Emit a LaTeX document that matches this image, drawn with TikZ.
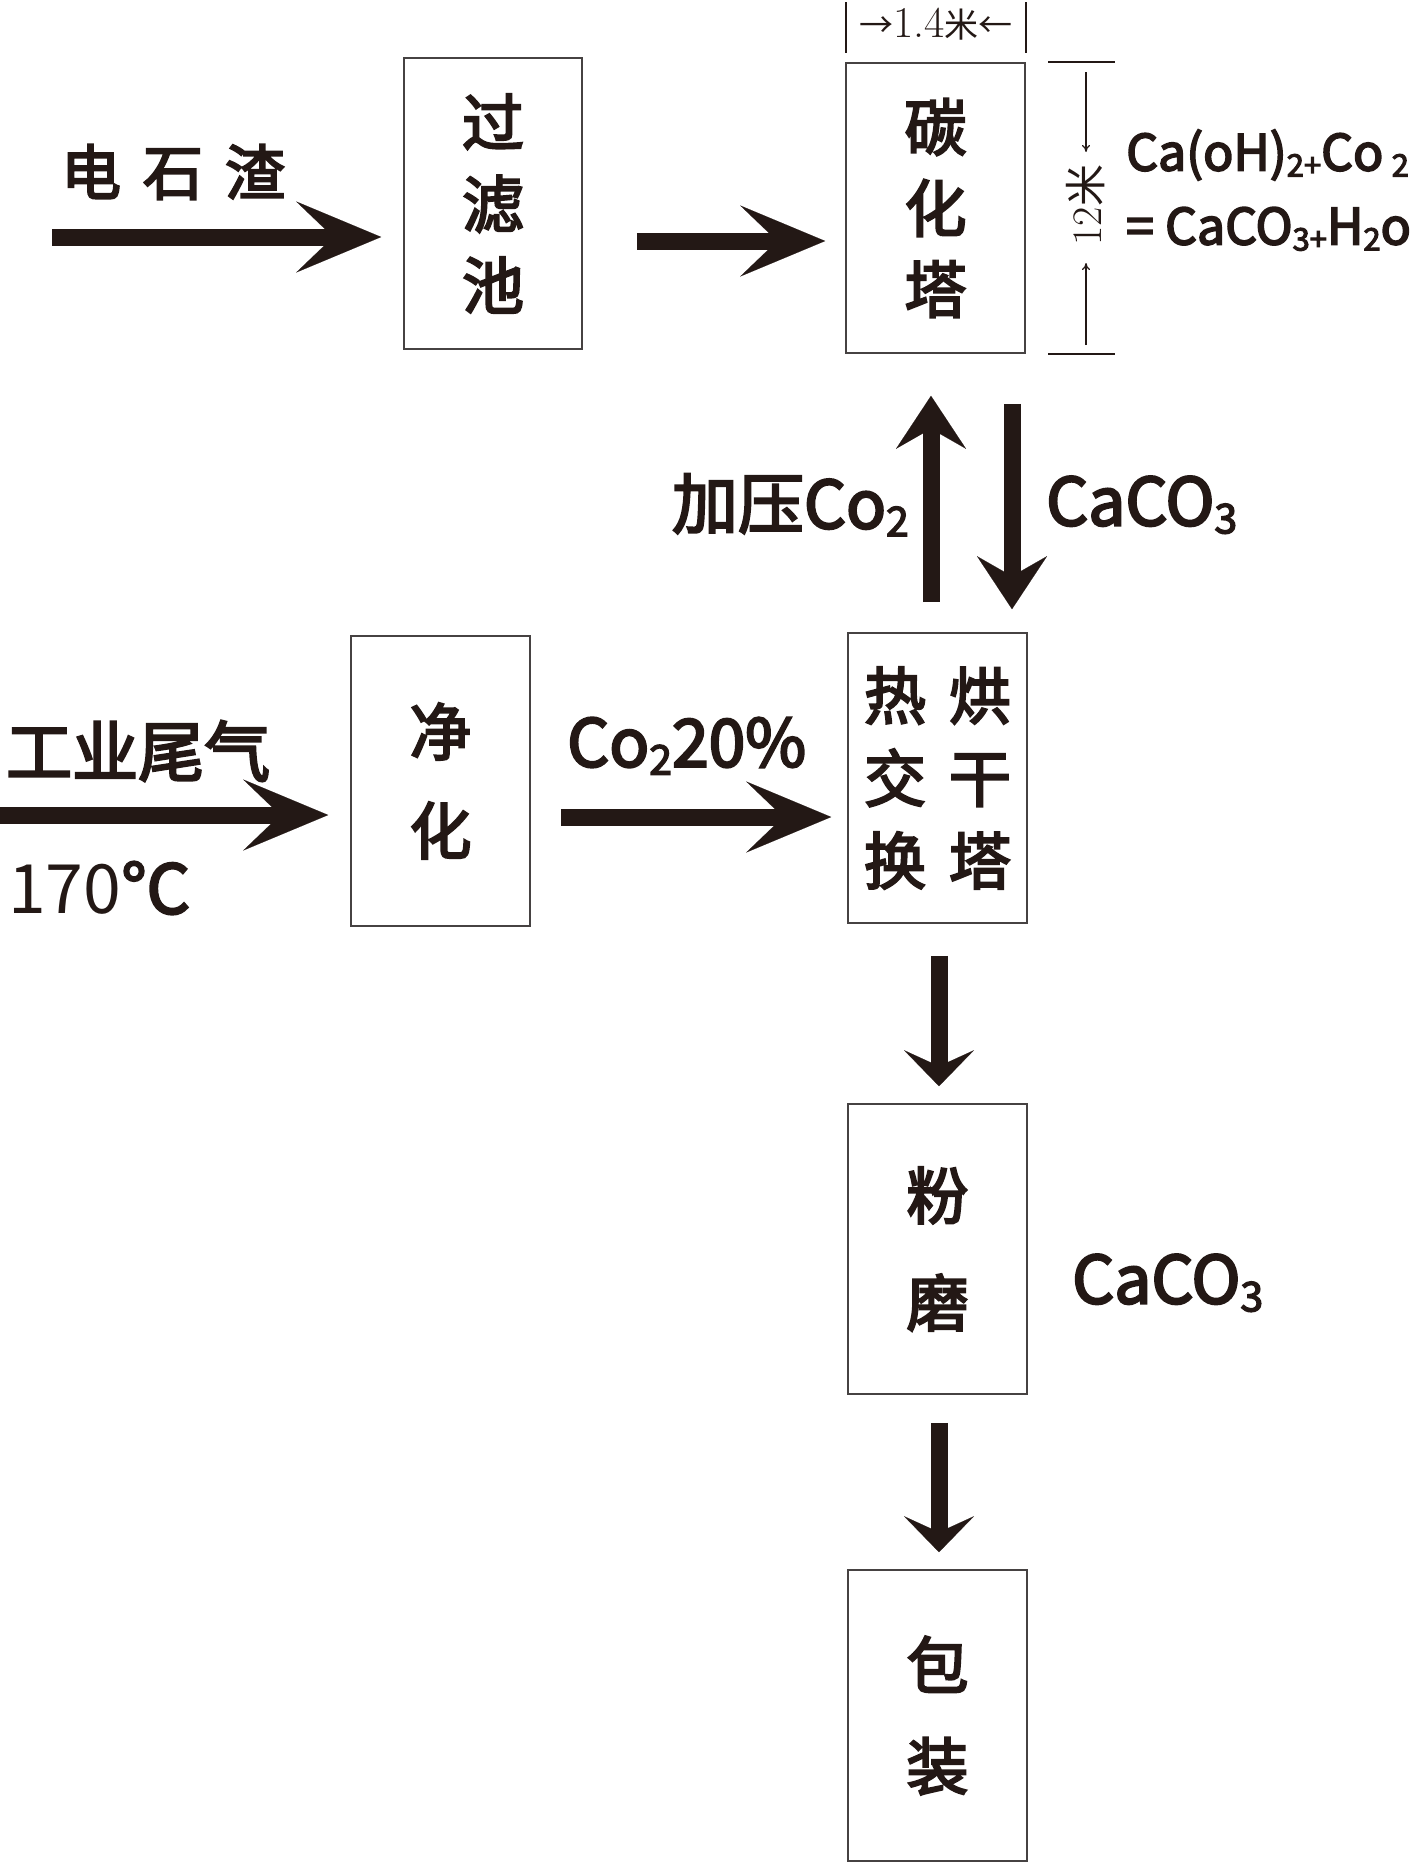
\documentclass[tikz,border=0pt]{standalone}
\usepackage{fontspec}
\setmainfont{Noto Sans CJK SC}
\newfontfamily\med{Noto Sans CJK SC}[FakeBold=3.5]
\newfontfamily\lmr{Latin Modern Roman}
\newcommand\sbs[1]{\raisebox{-0.12em}{\scalebox{0.62}{#1}}}
\usetikzlibrary{arrows.meta}
\definecolor{ink}{RGB}{35,24,21}
\definecolor{frame}{RGB}{70,66,66}
\begin{document}
\begin{tikzpicture}[x=1pt,y=-1pt,
  box/.style={draw=frame, line width=1.6pt, minimum width=179pt, minimum height=290pt,
    inner sep=0pt, text=ink, align=center},
  lbl/.style={inner sep=0pt, text=ink},
  fatH/.style={draw=ink, line width=17pt, -{Stealth[length=85pt, width=71pt, inset=37pt, line width=0.1pt]}},
  fatV/.style={draw=ink, line width=17pt, -{Stealth[length=53pt, width=70pt, inset=20pt, line width=0.1pt]}},
  fatS/.style={draw=ink, line width=17pt, -{Stealth[length=36pt, width=70pt, inset=16pt, line width=0.1pt]}},
  dim/.style={draw=ink, line width=1.2pt},
  dimarr/.style={draw=ink, line width=1.2pt, -{To[length=7pt,width=8pt]}}
]
\useasboundingbox (0,0) rectangle (1421,1863);

% boxes
\node[box, font=\med\fontsize{62}{81.5}\selectfont, minimum width=178pt, minimum height=291pt] (b1) at (493,203.5) {过\\滤\\池};
\node[box, font=\med\fontsize{62}{81}\selectfont] (b2) at (935.5,208) {碳\\化\\塔};
\node[box, font=\med\fontsize{62}{82.5}\selectfont] (b3) at (937.5,778) {热\hspace{23pt}烘\\交\hspace{23pt}干\\换\hspace{23pt}塔};
\node[box, font=\med\fontsize{62}{99}\selectfont] (b4) at (440.5,781) {净\\化};
\node[box, font=\med\fontsize{62}{107}\selectfont] (b5) at (937.5,1249) {粉\\磨};
\node[box, font=\med\fontsize{62}{101}\selectfont, minimum height=291pt] (b6) at (937.5,1715.5) {包\\装};

% labels
\node[lbl, font=\med\fontsize{60}{60}\selectfont] (t1) at (173,172) {电\hspace{22pt}石\hspace{22pt}渣};
\node[lbl, font=\med\fontsize{66}{66}\selectfont, anchor=west] (t2) at (6,751) {工业尾气};
\node[lbl, font=\fontsize{68}{68}\selectfont, anchor=west] (t3) at (8,888) {170{\med °C}};
\node[lbl, font=\med\fontsize{66}{66}\selectfont, anchor=west] (t4) at (567,746) {Co\sbs{2}20\%};
\node[lbl, font=\med\fontsize{66}{66}\selectfont, anchor=east] (t5) at (909,505) {加压Co\sbs{2}};
\node[lbl, font=\med\fontsize{66}{66}\selectfont, anchor=west] (t6) at (1046,505) {CaCO\sbs{3}};
\node[lbl, font=\med\fontsize{66}{66}\selectfont, anchor=west] (t7) at (1072,1283) {CaCO\sbs{3}};
\node[lbl, font=\med\fontsize{50}{50}\selectfont, anchor=west] (t8) at (1126,155) {Ca(oH)\sbs{2+}Co\,\sbs{2}};
\node[lbl, font=\med\fontsize{50}{50}\selectfont, anchor=west] (t9) at (1126,229) {= CaCO\sbs{3+}H\sbs{2}o};

% dimensions
\node[lbl, font=\fontsize{34}{34}\selectfont] (d1) at (936,24) {→{\lmr\fontsize{44}{44}\selectfont 1.4}米←};
\coordinate (k1a) at (846,2); \coordinate (k1b) at (846,53);
\coordinate (k2a) at (1026,2); \coordinate (k2b) at (1026,53);
\draw[dim] (k1a) -- (k1b);
\draw[dim] (k2a) -- (k2b);
\coordinate (h1a) at (1048,62); \coordinate (h1b) at (1115,62);
\coordinate (h2a) at (1048,354); \coordinate (h2b) at (1115,354);
\draw[dim] (h1a) -- (h1b);
\draw[dim] (h2a) -- (h2b);
\node[lbl, font=\fontsize{42}{42}\selectfont, rotate=90] (d2) at (1086,205) {{\lmr 12}米};
\coordinate (v1a) at (1086,72); \coordinate (v1b) at (1086,152);
\coordinate (v2a) at (1086,345); \coordinate (v2b) at (1086,263);
\draw[dimarr] (v1a) -- (v1b);
\draw[dimarr] (v2a) -- (v2b);

% flow arrows
\coordinate (s1) at (52,237);
\draw[fatH, shorten >=22pt] (s1) -- (s1 -| b1.west);
\path ([yshift=-37.5pt]b1.east) coordinate (a2);
\draw[fatH, shorten <=54pt, shorten >=20pt] (a2) -- (a2 -| b2.west);
\coordinate (s3) at (0,815);
\draw[fatH, shorten >=22pt] (s3) -- (s3 -| b4.west);
\path ([yshift=-36pt]b4.east) coordinate (a4);
\draw[fatH, shorten <=30pt, shorten >=16pt] (a4) -- (a4 -| b3.west);
\path ([xshift=-6.5pt]b3.north) coordinate (a5);
\draw[fatV, shorten <=30pt, shorten >=42pt] (a5) -- (a5 |- b2.south);
\path ([xshift=76.5pt]b2.south) coordinate (a6);
\draw[fatV, shorten <=50pt, shorten >=23pt] (a6) -- (a6 |- b3.north);
\path ([xshift=1.5pt]b3.south) coordinate (a7);
\draw[fatS, shorten <=32pt, shorten >=17pt] (a7) -- (a7 |- b5.north);
\path ([xshift=1.5pt]b5.south) coordinate (a8);
\draw[fatS, shorten <=28pt, shorten >=17pt] (a8) -- (a8 |- b6.north);
\end{tikzpicture}
\end{document}
